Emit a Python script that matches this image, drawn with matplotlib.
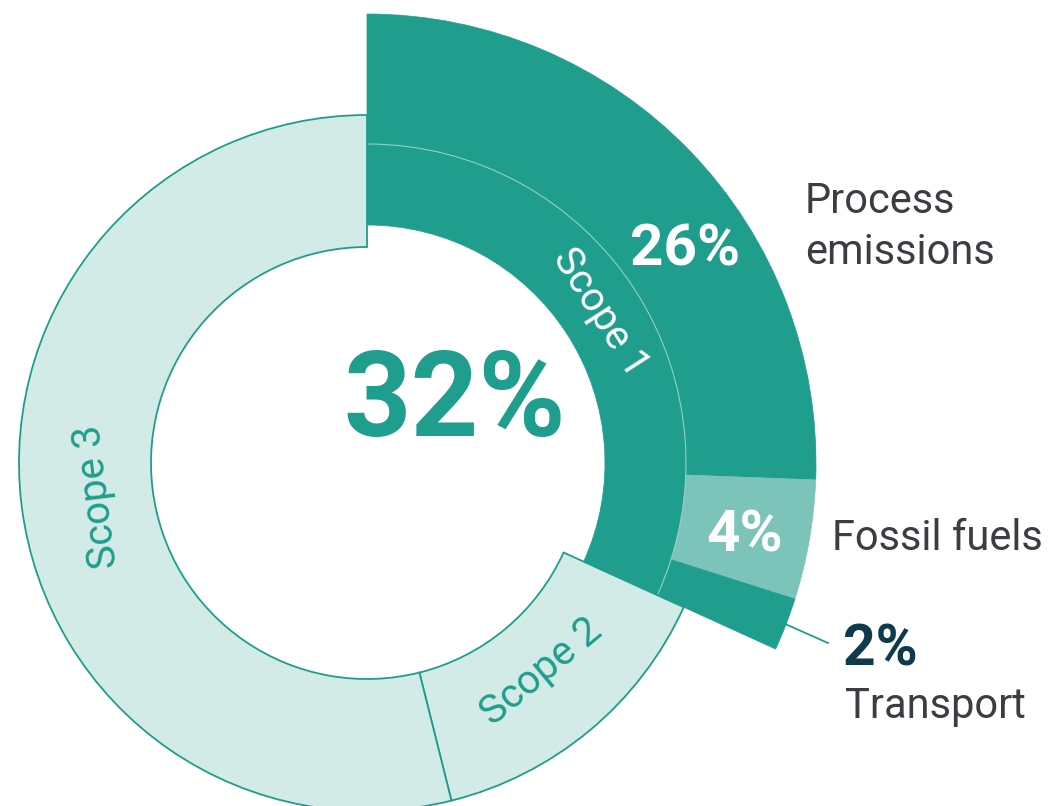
import numpy as np
import matplotlib.pyplot as plt
from matplotlib.patches import Wedge, Arc

# shares (percent of total emissions)
scopes = ['Scope 1', 'Scope 2', 'Scope 3']
scope_share = [31.8, 14.3, 53.9]
sources = ['Process\nemissions', 'Fossil fuels', 'Transport']
source_share = [25.6, 4.3, 1.9]
source_pct = ['26%', '4%', '2%']
total_pct = '32%'

dark = '#1f9d8d'
light = '#d3ebe7'
mid = '#7cc4ba'
grey = '#3d3c43'
navy = '#0e3b4b'

plt.rcParams['font.family'] = ['Roboto', 'DejaVu Sans']

fig = plt.figure(figsize=(10.51, 8.06), dpi=100)
ax = fig.add_axes([0, 0, 1, 1])
ax.set_xlim(0, 1051)
ax.set_ylim(0, 806)
ax.axis('off')

cx, cy = 367, 343


def edges(shares, start=90):
    # clockwise from 12 o'clock
    cum = np.concatenate([[0], np.cumsum(shares)])
    return start - 3.6 * cum


# scope 1, pulled out a bit
se = edges(scope_share)
ax.add_patch(Wedge((cx, cy), 319, se[1], se[0], width=81, fc=dark, ec=dark, lw=0.5))

# breakdown of scope 1 in the outer ring
oe = edges(source_share)
src_colors = [dark, mid, dark]
for i in range(len(source_share)):
    ax.add_patch(Wedge((cx, cy), 449, oe[i + 1], oe[i], width=130,
                       fc=src_colors[i], ec=src_colors[i], lw=0.5))
ax.add_patch(Arc((cx, cy), 638, 638, theta1=se[1], theta2=se[0], color='#8fd0c6', lw=0.8))

# scope 2 and 3
for i in [1, 2]:
    ax.add_patch(Wedge((cx, cy), 348, se[i + 1], se[i], width=132, fc=light, ec=dark, lw=1.3))

# scope labels along the ring
for i, name in enumerate(scopes):
    a = (se[i] + se[i + 1]) / 2
    r = 278 if i == 0 else 272
    rot = (a - 90 + 180) % 360 - 180
    if rot < -90:
        rot += 180
    elif rot > 90 and i != 2:
        rot -= 180
    ax.text(cx + r * np.cos(np.radians(a)), cy + r * np.sin(np.radians(a)), name,
            rotation=rot, rotation_mode='anchor', ha='center', va='center',
            fontsize=29, color='white' if i == 0 else dark)

ax.text(455, 370, total_pct, ha='center', va='baseline', fontsize=85,
        fontweight='bold', color=dark)

# percentages in the outer ring
ax.text(685, 541, source_pct[0], ha='center', va='baseline', fontsize=42,
        fontweight='bold', color='white')
ax.text(745, 255, source_pct[1], ha='center', va='baseline', fontsize=42,
        fontweight='bold', color='white')

# transport leader line
a = np.radians((oe[2] + oe[3]) / 2)
ax.plot([cx + 449 * np.cos(a), 828], [cy + 449 * np.sin(a), 163], color=dark, lw=1.3)
ax.text(843, 140, source_pct[2], ha='left', va='baseline', fontsize=41,
        fontweight='bold', color=navy)

# category names
for j, line in enumerate(sources[0].split('\n')):
    ax.text(805, 593 - 51 * j, line, ha='left', va='baseline', fontsize=30, color=grey)
ax.text(832, 256, sources[1], ha='left', va='baseline', fontsize=30, color=grey)
ax.text(845, 88, sources[2], ha='left', va='baseline', fontsize=30, color=grey)

fig.savefig('out.png', dpi=100)
